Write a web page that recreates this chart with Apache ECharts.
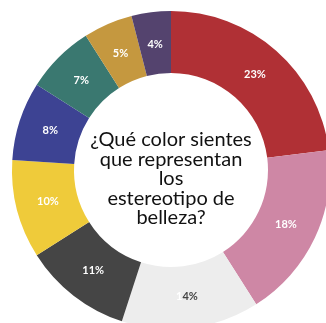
<!DOCTYPE html>
<html><head><meta charset="utf-8">
<script src="https://cdn.jsdelivr.net/npm/echarts@6/dist/echarts.min.js"></script>
<style>html,body{margin:0;padding:0;background:#fff}#c{width:326px;height:323px}</style>
</head><body><div id="c"></div>
<script>
const categories = ['Rojo','Rosa','Blanco','Negro','Amarillo','Azul','Verde','Dorado','Morado'];
const values = [23, 18, 14, 11, 10, 8, 7, 5, 4];
const centerTitle = '¿Qué color sientes\nque representan\nlos\nestereotipo de\nbelleza?';

const colors = ['#B03035','#CE87A5','#EDEDED','#454545','#EFCB3A','#3D4393','#3A7870','#C5983F','#54436E'];
const chart = echarts.init(document.getElementById('c'));
const ringData = categories.map((n,i)=>({name:n, value:values[i], itemStyle:{color:colors[i]}}));
const labelData = categories.map((n,i)=>{
  const item = {name:n, value:values[i]};
  if (colors[i] === '#EDEDED') {
    const s = String(values[i]);
    item.label = {formatter: '{w|' + s.slice(0,1) + '}{d|' + s.slice(1) + '%}'};
  }
  return item;
});
chart.setOption({
  animation:false,
  series:[{
    type:'pie',
    center:[171,170],
    radius:[97,159],
    startAngle:90,
    clockwise:true,
    silent:true,
    data:ringData,
    label:{show:false},
    labelLine:{show:false},
    itemStyle:{borderWidth:0}
  },{
    type:'pie',
    center:[171,170],
    radius:[97,151],
    startAngle:90,
    clockwise:true,
    silent:true,
    data:labelData,
    itemStyle:{color:'rgba(0,0,0,0)', borderWidth:0},
    label:{show:true, position:'inside', formatter:'{c}%', color:'#fff', fontWeight:'bold', fontSize:11, fontFamily:'Lato',
      rich:{w:{color:'#fff',fontWeight:'bold',fontSize:11,fontFamily:'Lato'}, d:{color:'#444',fontWeight:'bold',fontSize:11,fontFamily:'Lato'}}},
    labelLine:{show:false}
  }],
  graphic:[{
    type:'text', x:171, y:130,
    style:{text:centerTitle, fill:'#111', font:'20px Lato', align:'center', verticalAlign:'top', lineHeight:19.5}
  }]
});
</script></body></html>
